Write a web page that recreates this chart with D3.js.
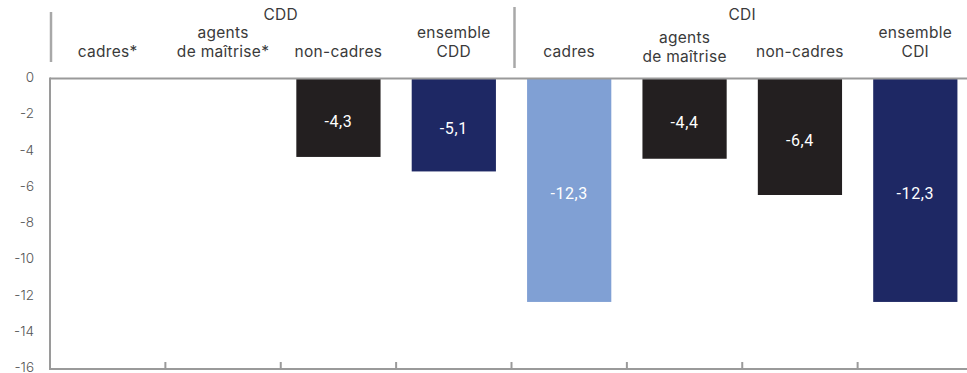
<!DOCTYPE html>
<html lang="fr">
<head>
<meta charset="utf-8">
<script src="https://cdn.jsdelivr.net/npm/d3@7"></script>
<style>
  html, body { margin: 0; padding: 0; background: #fff; }
  svg { display: block; font-family: Inter, "Noto Sans", sans-serif; }
</style>
</head>
<body>
<svg id="chart" width="967" height="373"></svg>
<script>
// Categories (two lines each where needed), groups and values
const categories = ["cadres*", "agents de maîtrise*", "non-cadres", "ensemble CDD",
                    "cadres", "agents de maîtrise", "non-cadres CDI", "ensemble CDI"];
const categoryLines = [["cadres*"], ["agents", "de maîtrise*"], ["non-cadres"], ["ensemble", "CDD"],
                       ["cadres"], ["agents", "de maîtrise"], ["non-cadres"], ["ensemble", "CDI"]];
const groups = ["CDD", "CDI"];
const groupOf = ["CDD", "CDD", "CDD", "CDD", "CDI", "CDI", "CDI", "CDI"];
const values = [null, null, -4.3, -5.1, -12.3, -4.4, -6.4, -12.3];
const barColors = [null, null, "#231f20", "#1e2864", "#80a0d4", "#231f20", "#231f20", "#1e2864"];
const yTicks = [0, -2, -4, -6, -8, -10, -12, -14, -16];

const svg = d3.select("#chart");
const W = 967;
const plot = { left: 50, top: 79, bottom: 369, right: 973 };

const x = d3.scaleBand().domain(categories).range([plot.left, plot.right]).paddingInner(0.27).paddingOuter(0.135);
const xb = d3.scaleBand().domain(categories).range([plot.left, plot.right]).padding(0);
const y = d3.scaleLinear().domain([-16, 0]).range([plot.bottom, plot.top]);

const fmt = v => d3.format(".1f")(v).replace(".", ",").replace("−", "-");

// Bars
svg.append("g").selectAll("rect")
  .data(categories.map((c, i) => ({ c, v: values[i], col: barColors[i] })).filter(d => d.v !== null))
  .join("rect")
  .attr("x", d => x(d.c))
  .attr("width", x.bandwidth())
  .attr("y", y(0))
  .attr("height", d => y(d.v) - y(0))
  .attr("fill", d => d.col);

// Value labels inside bars
svg.append("g").selectAll("text")
  .data(categories.map((c, i) => ({ c, v: values[i] })).filter(d => d.v !== null))
  .join("text")
  .attr("x", d => x(d.c) + x.bandwidth() / 2)
  .attr("y", d => (y(0) + y(d.v)) / 2 + 9)
  .attr("text-anchor", "middle")
  .attr("fill", "#fff")
  .attr("font-family", "Roboto, sans-serif")
  .attr("font-size", 16)
  .attr("letter-spacing", 0.6)
  .text(d => fmt(d.v));

// Axis lines
const axisColor = "#9a9a9a";
svg.append("line").attr("x1", plot.left).attr("x2", W).attr("y1", y(0) - 0.5).attr("y2", y(0) - 0.5)
  .attr("stroke", axisColor).attr("stroke-width", 2);
svg.append("line").attr("x1", plot.left).attr("x2", W).attr("y1", plot.bottom).attr("y2", plot.bottom)
  .attr("stroke", axisColor).attr("stroke-width", 2);
svg.append("line").attr("x1", plot.left).attr("x2", plot.left).attr("y1", y(0) - 1.5).attr("y2", plot.bottom + 1)
  .attr("stroke", axisColor).attr("stroke-width", 2);

// Category boundary ticks along the bottom
svg.append("g").selectAll("line")
  .data(categories.slice(1))
  .join("line")
  .attr("x1", d => xb(d)).attr("x2", d => xb(d))
  .attr("y1", plot.bottom).attr("y2", plot.bottom - 7)
  .attr("stroke", axisColor).attr("stroke-width", 2);

// Y axis tick labels
svg.append("g").selectAll("text")
  .data(yTicks)
  .join("text")
  .attr("x", 34)
  .attr("y", d => y(d) + 3)
  .attr("text-anchor", "end")
  .attr("fill", "#555")
  .attr("font-size", 13.5)
  .attr("font-weight", 300)
  .text(d => String(d));

// Category headers
const headG = svg.append("g").attr("fill", "#3a3a3a").attr("font-size", 15.5).attr("letter-spacing", 0.3);
categories.forEach((c, i) => {
  const lines = categoryLines[i];
  const cx = xb(c) + xb.bandwidth() / 2;
  const lowered = (lines.length === 2 && lines[0] === "agents" && groupOf[i] === "CDI") ? 5 : 0;
  const baseY = 57 + lowered;
  lines.forEach((t, k) => {
    headG.append("text")
      .attr("x", cx)
      .attr("y", baseY - (lines.length - 1 - k) * 19)
      .attr("text-anchor", "middle")
      .text(t);
  });
});

// Group headers and separators
groups.forEach(g => {
  const idx = groupOf.map((d, i) => d === g ? i : -1).filter(i => i >= 0);
  const x0 = xb(categories[idx[0]]);
  const x1 = xb(categories[idx[idx.length - 1]]) + xb.bandwidth();
  svg.append("text")
    .attr("x", (x0 + x1) / 2)
    .attr("y", 20)
    .attr("text-anchor", "middle")
    .attr("fill", "#3a3a3a")
    .attr("font-size", 15.5)
    .attr("letter-spacing", 0.3)
    .text(g);
});
svg.append("line").attr("x1", 51).attr("x2", 51).attr("y1", 12).attr("y2", 62)
  .attr("stroke", "#a8a8a8").attr("stroke-width", 2.5);
svg.append("line").attr("x1", xb(categories[4]) + 3).attr("x2", xb(categories[4]) + 3).attr("y1", 7).attr("y2", 68)
  .attr("stroke", "#a8a8a8").attr("stroke-width", 2.5);
</script>
</body>
</html>
